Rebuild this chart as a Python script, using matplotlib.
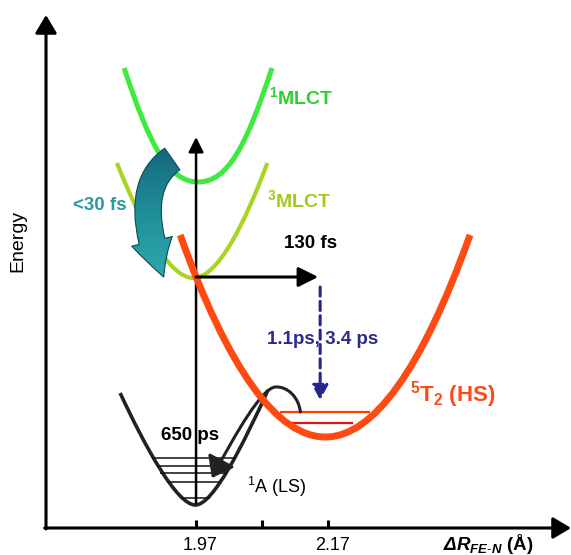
import numpy as np
import matplotlib.pyplot as plt
from matplotlib.path import Path
from matplotlib.patches import PathPatch, FancyArrowPatch
from matplotlib.colors import LinearSegmentedColormap

plt.rcParams['font.family'] = ['Liberation Sans', 'DejaVu Sans']
plt.rcParams['mathtext.fontset'] = 'custom'
plt.rcParams['mathtext.rm'] = 'Liberation Sans'
plt.rcParams['mathtext.it'] = 'Liberation Sans:italic'
plt.rcParams['mathtext.bf'] = 'Liberation Sans:bold'
plt.rcParams['mathtext.bfit'] = 'Liberation Sans:italic:bold'

# potential wells, given as bezier control points: Fe-N distance (A) / energy (arb. units)
mlct1_r = [1.861, 1.899, 1.928, 1.973, 2.019, 2.047, 2.085]
mlct1_e = [4.60, 3.84, 3.46, 3.46, 3.46, 3.84, 4.60]

mlct3_r = [1.850, 1.887, 1.928, 1.966, 2.003, 2.044, 2.078]
mlct3_e = [3.65, 3.05, 2.50, 2.50, 2.50, 3.05, 3.65]

hs_r = [1.946, 2.019, 2.093, 2.166, 2.238, 2.312, 2.385]
hs_e = [2.93, 1.58, 0.91, 0.91, 0.91, 1.58, 2.93]

ls_r = [1.855, 1.893, 1.941, 1.969, 1.996, 2.041, 2.079]
ls_e = [1.35, 0.81, 0.23, 0.23, 0.23, 0.83, 1.38]

# vibrational levels
ls_lvl_e = [0.70, 0.62, 0.55, 0.46, 0.30]
ls_lvl_r0 = [1.903, 1.911, 1.916, 1.926, 1.949]
ls_lvl_r1 = [2.029, 2.022, 2.014, 2.006, 1.991]

hs_lvl_e = [1.16, 1.05]
hs_lvl_r0 = [2.097, 2.108]
hs_lvl_r1 = [2.234, 2.208]

# 650 ps relaxation path (HS -> LS)
back_r = [2.128, 2.126, 2.109, 2.090, 2.070, 2.031, 1.994]
back_e = [1.16, 1.30, 1.42, 1.41, 1.40, 0.96, 0.50]

ticks = [1.97, 2.07, 2.17]
tick_labels = ['1.97', '', '2.17']

r_axis = 1.7427
r_lim = (1.673, 2.538)
e_lim = (-0.27, 5.28)


def well(ax, r, e, color, lw, z):
    codes = [Path.MOVETO] + [Path.CURVE4] * 6
    p = PathPatch(Path(list(zip(r, e)), codes), fc='none', ec=color, lw=lw,
                  zorder=z, capstyle='butt')
    ax.add_patch(p)


def arrow(ax, a, b, lw, ms, hl, hw, color='k', z=4, ls='-'):
    ax.annotate('', xy=b, xytext=a, zorder=z,
                arrowprops=dict(arrowstyle='-|>,head_length=%g,head_width=%g' % (hl, hw),
                                lw=lw, color=color, mutation_scale=ms,
                                shrinkA=0, shrinkB=0, linestyle=ls))


def teal_arrow(**kw):
    return FancyArrowPatch((1.934, 3.69), (1.921, 2.51),
                           connectionstyle='angle3,angleA=215,angleB=112',
                           arrowstyle='simple,head_length=27,head_width=30,tail_width=19',
                           mutation_scale=1, shrinkA=0, shrinkB=0, **kw)


fig = plt.figure(figsize=(5.71, 5.55), dpi=100)
ax = fig.add_axes([0, 0, 1, 1])
ax.axis('off')

# axes
arrow(ax, (r_axis, -0.01), (r_axis, 5.13), 2.2, 20, 0.55, 0.33)
arrow(ax, (r_axis - 0.002, 0), (r_lim[1], 0), 2.2, 20, 0.55, 0.33)
ax.vlines(ticks, 0, 0.08, color='k', lw=2.2)
for t, lab in zip(ticks, tick_labels):
    ax.text(t + 0.006, -0.18, lab, ha='center', va='center', fontsize=13)
ax.text(1.70, 2.87, 'Energy', rotation=90, ha='center', va='center', fontsize=14)
ax.text(2.344, -0.165, r'$\mathbfit{\Delta R}_{\mathbfit{FE}\mathbf{\text{-}}\mathbfit{N}}$ (Å)',
        ha='left', va='center', fontsize=13.5, fontweight='bold')

# wells
well(ax, mlct1_r, mlct1_e, '#3dea3d', 3.6, 2)
well(ax, mlct3_r, mlct3_e, '#abd322', 3.0, 2)
well(ax, ls_r, ls_e, '#222222', 2.6, 3)
well(ax, hs_r, hs_e, '#ff4a14', 5.0, 6)

ax.hlines(ls_lvl_e, ls_lvl_r0, ls_lvl_r1, color='#111111', lw=1.1, zorder=3)
ax.hlines(hs_lvl_e, hs_lvl_r0, hs_lvl_r1, color=['#ff3d00', '#e81010'], lw=1.6, zorder=3)

# excitation and relaxation arrows
arrow(ax, (1.97, 0.25), (1.97, 3.91), 1.8, 15, 0.6, 0.3, z=4)
arrow(ax, (1.97, 2.51), (2.155, 2.51), 2.2, 20, 0.6, 0.3, z=7)
arrow(ax, (2.158, 2.41), (2.158, 1.28), 2.2, 18, 0.5, 0.27, color='#25258f', z=7, ls=(0, (3, 1.7)))

back = FancyArrowPatch(path=Path(list(zip(back_r, back_e)),
                                 [Path.MOVETO] + [Path.CURVE4] * 6),
                       arrowstyle='-|>,head_length=0.6,head_width=0.45', mutation_scale=20,
                       lw=2.2, color='#222222', zorder=5)
ax.add_patch(back)

# curved intersystem crossing arrow: solid base, gradient on top, outline
ax.add_patch(teal_arrow(fc='#1f8a94', ec='none', zorder=8))
clip = teal_arrow(fc='none', ec='none')
ax.add_patch(clip)
cmap = LinearSegmentedColormap.from_list('teal', ['#15627a', '#1f8f98', '#2eadb0'])
grad = np.linspace(0, 1, 100).reshape(-1, 1)
img = ax.imshow(grad, cmap=cmap, extent=(1.80, 1.98, 2.40, 3.90), origin='upper',
                aspect='auto', zorder=8.5)
img.set_clip_path(clip)
ax.add_patch(teal_arrow(fc='none', ec='#0d4d57', lw=0.8, zorder=9))

# labels
ax.text(2.081, 4.31, r'$\mathbf{^1}$MLCT', color='#2fcf2f', fontsize=14,
        fontweight='bold', ha='left', va='center')
ax.text(2.078, 3.28, r'$\mathbf{^3}$MLCT', color='#a3c91c', fontsize=14,
        fontweight='bold', ha='left', va='center')
ax.text(1.8245, 3.22, '<30 fs', color='#2a9a9e', fontsize=13.5, fontweight='bold',
        ha='center', va='center')
ax.text(2.144, 2.85, '130 fs', fontsize=13.5, fontweight='bold', ha='center', va='center')
ax.text(2.1617, 1.89, '1.1ps, 3.4 ps', color='#2b2b8f', fontsize=13.5, fontweight='bold',
        ha='center', va='center', zorder=8)
ax.text(2.294, 1.33, r'$\mathbf{^5}$T$\mathbf{_2}$ (HS)', color='#ff4a14', fontsize=16,
        fontweight='bold', ha='left', va='center')
ax.text(1.961, 0.93, '650 ps', fontsize=13.5, fontweight='bold', ha='center', va='center')
ax.text(2.047, 0.415, r'$^1$A (LS)', fontsize=13, ha='left', va='center')

ax.set_xlim(*r_lim)
ax.set_ylim(*e_lim)

plt.savefig('out.png', dpi=100)
